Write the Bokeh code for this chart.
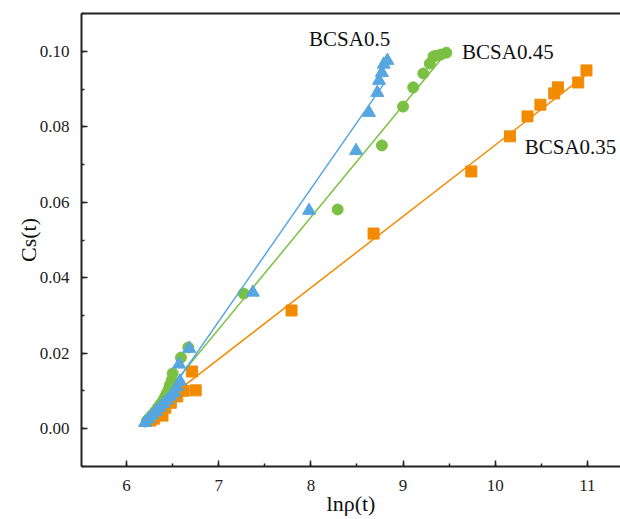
from bokeh.plotting import figure
from bokeh.models import LinearAxis, Range1d, FixedTicker, Label, CustomJSTickFormatter
from bokeh.embed import file_html
from bokeh.resources import INLINE
import numpy as np

# ---- data ----
x_035 = [6.26, 6.30, 6.35, 6.39, 6.42, 6.48, 6.55, 6.62, 6.71, 6.75, 7.79, 8.68, 9.74,
         10.16, 10.35, 10.49, 10.64, 10.68, 10.90, 10.99]
y_035 = [0.0021, 0.0026, 0.0040, 0.0034, 0.0055, 0.0068, 0.0085, 0.0100, 0.0151, 0.0101,
         0.0313, 0.0517, 0.0682, 0.0775, 0.0828, 0.0859, 0.0889, 0.0905, 0.0918, 0.0950]

x_045 = [6.22, 6.25, 6.28, 6.31, 6.34, 6.37, 6.40, 6.42, 6.44, 6.46, 6.47, 6.49, 6.50,
         6.59, 6.67, 7.27, 8.29, 8.77, 9.00, 9.11, 9.22, 9.29, 9.33, 9.36, 9.41, 9.47]
y_045 = [0.0020, 0.0028, 0.0036, 0.0045, 0.0055, 0.0065, 0.0076, 0.0085, 0.0095, 0.0105,
         0.0115, 0.0128, 0.0146, 0.0188, 0.0215, 0.0358, 0.0581, 0.0751, 0.0854, 0.0905,
         0.0942, 0.0968, 0.0987, 0.0989, 0.0992, 0.0997]

x_05 = [6.20, 6.24, 6.28, 6.32, 6.36, 6.40, 6.44, 6.48, 6.52, 6.55, 6.58, 6.57, 6.68,
        7.37, 7.98, 8.49, 8.63, 8.72, 8.74, 8.77, 8.79, 8.83]
y_05 = [0.0015, 0.0025, 0.0035, 0.0045, 0.0055, 0.0065, 0.0075, 0.0085, 0.0095, 0.0110,
        0.0125, 0.0170, 0.0212, 0.0361, 0.0578, 0.0737, 0.0838, 0.0891, 0.0923, 0.0944,
        0.0966, 0.0976]

# linear fits: slope, intercept, x start, x end
fit_035 = (0.01893, -0.1141, 6.22, 10.99)
fit_045 = (0.02968, -0.1814, 6.20, 9.47)
fit_05 = (0.0352, -0.2180, 6.20, 8.80)

x_ticks = [6, 7, 8, 9, 10, 11]
y_ticks = [0.00, 0.02, 0.04, 0.06, 0.08, 0.10]

label_x = [7.98, 9.64, 10.32]
label_y = [0.1034, 0.1000, 0.0748]
label_t = ["BCSA0.5", "BCSA0.45", "BCSA0.35"]

C_ORANGE = "#F38B00"
C_GREEN = "#7AC143"
C_BLUE = "#56A6E0"
FONT = "Liberation Serif"

p = figure(width=620, height=519, output_backend="svg", toolbar_location=None,
           x_range=Range1d(5.511, 11.359), y_range=Range1d(-0.0101, 0.1101),
           min_border_left=81, min_border_right=0, min_border_top=13, min_border_bottom=53)
p.outline_line_color = None
p.grid.visible = False
p.background_fill_color = "white"
p.border_fill_color = "white"

def fit_line(f):
    s, b, x0, x1 = f
    xs = np.array([x0, x1])
    return xs, s * xs + b

p.scatter(x_035, y_035, marker="square", size=11, color=C_ORANGE)
xs, ys = fit_line(fit_035)
p.line(xs, ys, color=C_ORANGE, line_width=1.5)

p.scatter(x_045, y_045, marker="circle", size=11, color=C_GREEN)
xs, ys = fit_line(fit_045)
p.line(xs, ys, color=C_GREEN, line_width=1.5)

p.scatter(x_05, y_05, marker="triangle", size=13, color=C_BLUE)
xs, ys = fit_line(fit_05)
p.line(xs, ys, color=C_BLUE, line_width=1.5)

for ax in (p.xaxis[0], p.yaxis[0]):
    ax.axis_line_width = 2
    ax.axis_line_color = "#222222"
    ax.major_tick_line_color = "#222222"
    ax.minor_tick_line_color = "#222222"
    ax.major_tick_line_width = 1.5
    ax.minor_tick_line_width = 1.5
    ax.major_tick_in = 6
    ax.major_tick_out = 0
    ax.minor_tick_in = 3
    ax.minor_tick_out = 0
    ax.major_label_text_font = FONT
    ax.major_label_text_font_size = "17px"
    ax.major_label_text_color = "#222222"
    ax.axis_label_text_font = FONT
    ax.axis_label_text_font_size = "22px"
    ax.axis_label_text_font_style = "normal"
    ax.axis_label_text_color = "#111111"

p.xaxis[0].ticker = FixedTicker(ticks=x_ticks, minor_ticks=[5.5 + 0.5 * i for i in range(13)])
p.yaxis[0].ticker = FixedTicker(ticks=y_ticks, minor_ticks=[-0.01 + 0.01 * i for i in range(13)])
p.yaxis[0].formatter = CustomJSTickFormatter(code="return tick.toFixed(2);")
p.xaxis[0].axis_label = "lnρ(t)"
p.yaxis[0].axis_label = "Cs(t)"
p.xaxis[0].major_label_standoff = 13
p.yaxis[0].major_label_standoff = 12
p.xaxis[0].axis_label_standoff = -3
p.yaxis[0].axis_label_standoff = -4

top = LinearAxis(ticker=FixedTicker(ticks=[]), major_tick_in=0, major_tick_out=0,
                 minor_tick_in=0, minor_tick_out=0, major_label_text_font_size="0px",
                 axis_line_width=2, axis_line_color="#222222")
p.add_layout(top, "above")

for lx, ly, lt in zip(label_x, label_y, label_t):
    p.add_layout(Label(x=lx, y=ly, text=lt, text_font=FONT, text_font_size="21px",
                       text_color="#111111", text_baseline="middle", text_align="left"))

open("out.html", "w").write(file_html(p, INLINE))
